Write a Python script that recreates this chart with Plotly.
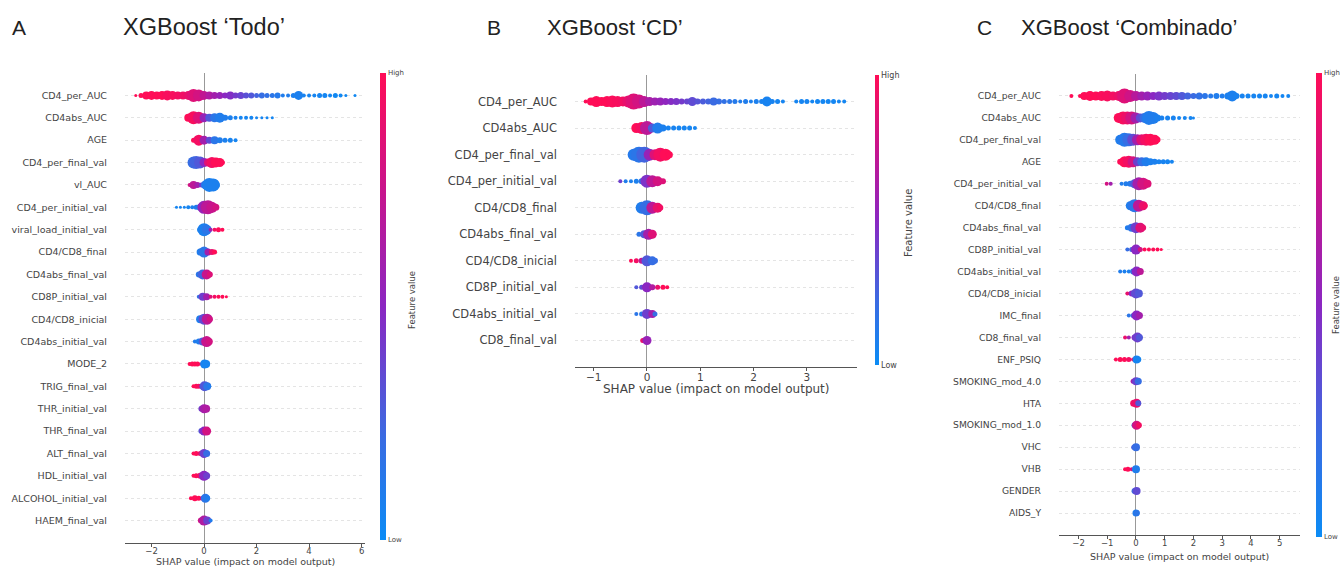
import plotly.graph_objects as go

W, H = 1343, 567

# ---------------- Panel A: XGBoost 'Todo' ----------------
A_FEATURES = ["CD4_per_AUC", "CD4abs_AUC", "AGE", "CD4_per_final_val", "vl_AUC",
              "CD4_per_initial_val", "viral_load_initial_val", "CD4/CD8_final",
              "CD4abs_final_val", "CD8P_initial_val", "CD4/CD8_inicial",
              "CD4abs_initial_val", "MODE_2", "TRIG_final_val", "THR_initial_val",
              "THR_final_val", "ALT_final_val", "HDL_initial_val",
              "ALCOHOL_initial_val", "HAEM_final_val"]
A_SHAP = [
    [-2.6, -2.4, -2.2, -2.0, -1.8, -1.6, -1.4, -1.2, -1.0, -0.8, -0.6, -0.4, -0.2, 0.0, 0.2, 0.4, 0.6, 0.8, 1.0, 1.2, 1.4, 1.6, 1.8, 2.0, 2.2, 2.4, 2.6, 2.8, 3.0, 3.2, 3.4, 3.6, 3.8, 4.0, 4.2, 4.4, 4.6, 4.8, 5.0, 5.2, 5.4, 5.75],
    [-0.6, -0.4, -0.2, 0.0, 0.2, 0.4, 0.6, 0.8, 1.0, 1.2, 1.4, 1.6, 1.8, 2.0, 2.2, 2.4, 2.6],
    [-0.4, -0.2, 0.0, 0.2, 0.4, 0.6, 0.8, 1.0, 1.2],
    [-0.4, -0.3, -0.15, 0.0, 0.15, 0.3, 0.45, 0.6, 0.7],
    [-0.55, -0.4, -0.25, -0.1, 0.05, 0.2, 0.35, 0.45],
    [-1.05, -0.9, -0.75, -0.6, -0.45, -0.3, -0.15, 0.0, 0.15, 0.3, 0.45],
    [-0.15, 0.0, 0.1, 0.25, 0.4, 0.55, 0.7],
    [-0.15, 0.0, 0.15, 0.3, 0.4],
    [-0.2, -0.05, 0.1, 0.22],
    [-0.2, -0.05, 0.1, 0.25, 0.4, 0.55, 0.7, 0.85],
    [-0.15, 0.0, 0.12, 0.22],
    [-0.35, -0.2, -0.05, 0.1, 0.2],
    [-0.55, -0.45, -0.35, -0.25, -0.15, 0.02, 0.08],
    [-0.4, -0.3, -0.2, -0.1, 0.02, 0.12, 0.2],
    [-0.1, 0.0, 0.08],
    [-0.1, 0.0, 0.1],
    [-0.4, -0.3, -0.15, 0.0, 0.1],
    [-0.4, -0.3, -0.15, 0.0, 0.1],
    [-0.5, -0.35, -0.2, -0.05, 0.05, 0.12],
    [-0.12, 0.0, 0.12, 0.25],
]
A_SPREAD = [
    [3, 5, 8, 9, 8, 9, 10, 9, 8, 8, 9, 13, 12, 9, 8, 7, 7, 6, 8, 6, 7, 6, 6, 5, 6, 5, 5, 6, 4, 4, 5, 9, 4, 4, 4, 5, 5, 4, 5, 4, 3, 3],
    [8, 13, 12, 9, 8, 9, 10, 6, 5, 4, 4, 4, 4, 3, 3, 3, 3],
    [5, 11, 9, 7, 8, 6, 5, 5, 4],
    [12, 13, 12, 9, 8, 11, 10, 9, 5],
    [4, 8, 6, 5, 9, 14, 13, 8],
    [3, 3, 3, 4, 4, 5, 7, 13, 14, 11, 7],
    [6, 13, 10, 4, 4, 5, 4],
    [7, 11, 7, 6, 5],
    [6, 10, 10, 6],
    [4, 8, 7, 4, 4, 4, 4, 3],
    [8, 11, 11, 6],
    [4, 6, 8, 11, 7],
    [4, 5, 5, 5, 3, 9, 8],
    [4, 5, 5, 5, 10, 8, 4],
    [6, 9, 8],
    [6, 9, 9],
    [4, 5, 5, 9, 7],
    [4, 5, 6, 10, 7],
    [4, 6, 5, 5, 9, 6],
    [6, 10, 8, 4],
]
A_COLOR = [
    [1.0, 1.0, 1.0, 1.0, 1.0, 1.0, 0.97, 0.97, 0.95, 0.93, 0.9, 0.85, 0.8, 0.72, 0.65, 0.6, 0.55, 0.5, 0.47, 0.42, 0.38, 0.33, 0.3, 0.25, 0.2, 0.18, 0.15, 0.12, 0.1, 0.1, 0.08, 0.08, 0.06, 0.05, 0.05, 0.05, 0.04, 0.04, 0.03, 0.03, 0.03, 0.03],
    [1.0, 0.97, 0.85, 0.55, 0.3, 0.15, 0.1, 0.1, 0.08, 0.06, 0.05, 0.05, 0.05, 0.05, 0.05, 0.04, 0.04],
    [1.0, 0.95, 0.6, 0.35, 0.15, 0.1, 0.08, 0.06, 0.05],
    [0.2, 0.25, 0.3, 0.5, 0.85, 0.95, 1.0, 1.0, 1.0],
    [0.8, 0.7, 0.6, 0.4, 0.15, 0.08, 0.08, 0.08],
    [0.05, 0.05, 0.05, 0.05, 0.08, 0.1, 0.2, 0.55, 0.7, 0.75, 0.8],
    [0.05, 0.08, 0.15, 0.6, 0.95, 1.0, 1.0],
    [0.1, 0.15, 0.6, 0.9, 1.0],
    [0.15, 0.25, 0.75, 0.85],
    [0.2, 0.4, 0.6, 0.85, 0.95, 1.0, 1.0, 1.0],
    [0.1, 0.35, 0.7, 0.8],
    [0.1, 0.1, 0.3, 0.75, 0.8],
    [1.0, 1.0, 1.0, 1.0, 0.9, 0.05, 0.05],
    [1.0, 1.0, 0.95, 0.8, 0.3, 0.15, 0.1],
    [0.4, 0.6, 0.65],
    [0.3, 0.5, 0.8],
    [1.0, 1.0, 0.9, 0.4, 0.2],
    [1.0, 1.0, 0.9, 0.5, 0.4],
    [1.0, 1.0, 1.0, 0.7, 0.15, 0.1],
    [0.8, 0.65, 0.4, 0.1],
]

# ---------------- Panel B: XGBoost 'CD' ----------------
B_FEATURES = ["CD4_per_AUC", "CD4abs_AUC", "CD4_per_final_val", "CD4_per_initial_val",
              "CD4/CD8_final", "CD4abs_final_val", "CD4/CD8_inicial",
              "CD8P_initial_val", "CD4abs_initial_val", "CD8_final_val"]
B_SHAP = [
    [-1.15, -1.05, -0.95, -0.85, -0.75, -0.65, -0.55, -0.45, -0.35, -0.25, -0.15, -0.05, 0.05, 0.15, 0.25, 0.35, 0.45, 0.55, 0.65, 0.75, 0.85, 0.95, 1.05, 1.15, 1.25, 1.35, 1.45, 1.55, 1.65, 1.75, 1.85, 1.95, 2.05, 2.15, 2.25, 2.35, 2.45, 2.55, 2.8, 2.9, 3.0, 3.1, 3.2, 3.3, 3.4, 3.5, 3.6, 3.7],
    [-0.2, -0.1, 0.0, 0.1, 0.2, 0.3, 0.4, 0.5, 0.6, 0.7, 0.8, 0.9],
    [-0.25, -0.15, -0.05, 0.05, 0.15, 0.25, 0.35, 0.42],
    [-0.5, -0.4, -0.3, -0.2, -0.1, 0.0, 0.1, 0.2, 0.3],
    [-0.1, 0.0, 0.1, 0.2, 0.25],
    [-0.15, -0.05, 0.03, 0.1],
    [-0.3, -0.2, -0.1, 0.0, 0.1, 0.15],
    [-0.2, -0.1, 0.0, 0.1, 0.2, 0.3, 0.38],
    [-0.2, -0.1, 0.0, 0.1, 0.15],
    [-0.08, 0.0],
]
B_SPREAD = [
    [4, 8, 11, 9, 11, 12, 11, 10, 12, 16, 14, 11, 9, 8, 8, 7, 7, 7, 6, 6, 9, 6, 6, 6, 8, 6, 5, 5, 5, 4, 5, 4, 5, 5, 10, 5, 5, 4, 4, 5, 5, 4, 5, 5, 5, 5, 4, 4],
    [10, 12, 14, 9, 11, 7, 5, 5, 5, 5, 5, 4],
    [12, 16, 16, 12, 11, 14, 12, 7],
    [4, 4, 4, 5, 6, 13, 12, 10, 6],
    [12, 15, 12, 10, 6],
    [5, 8, 11, 9],
    [4, 5, 6, 11, 9, 6],
    [4, 5, 10, 6, 5, 5, 4],
    [4, 5, 10, 8, 5],
    [5, 9],
]
B_COLOR = [
    [1.0, 1.0, 1.0, 1.0, 1.0, 0.98, 0.97, 0.95, 0.9, 0.85, 0.8, 0.7, 0.62, 0.58, 0.55, 0.52, 0.48, 0.45, 0.42, 0.38, 0.35, 0.32, 0.28, 0.25, 0.22, 0.2, 0.18, 0.15, 0.12, 0.1, 0.1, 0.08, 0.08, 0.07, 0.06, 0.06, 0.05, 0.05, 0.05, 0.05, 0.05, 0.04, 0.04, 0.04, 0.04, 0.04, 0.04, 0.04],
    [1.0, 0.95, 0.7, 0.3, 0.1, 0.08, 0.06, 0.06, 0.05, 0.05, 0.05, 0.05],
    [0.12, 0.15, 0.25, 0.55, 0.85, 0.95, 1.0, 1.0],
    [0.4, 0.1, 0.08, 0.08, 0.15, 0.45, 0.7, 0.8, 0.85],
    [0.1, 0.2, 0.7, 0.9, 0.95],
    [0.15, 0.3, 0.6, 0.85],
    [1.0, 0.95, 0.7, 0.3, 0.2, 0.2],
    [0.3, 0.35, 0.5, 0.65, 0.9, 1.0, 1.0],
    [0.15, 0.15, 0.4, 0.6, 0.2],
    [0.9, 0.55],
]

# ---------------- Panel C: XGBoost 'Combinado' ----------------
C_FEATURES = ["CD4_per_AUC", "CD4abs_AUC", "CD4_per_final_val", "AGE",
              "CD4_per_initial_val", "CD4/CD8_final", "CD4abs_final_val",
              "CD8P_initial_val", "CD4abs_initial_val", "CD4/CD8_inicial",
              "IMC_final", "CD8_final_val", "ENF_PSIQ", "SMOKING_mod_4.0", "HTA",
              "SMOKING_mod_1.0", "VHC", "VHB", "GENDER", "AIDS_Y"]
C_SHAP = [
    [-2.25, -1.95, -1.8, -1.6, -1.4, -1.2, -1.0, -0.8, -0.6, -0.4, -0.2, 0.0, 0.2, 0.4, 0.6, 0.8, 1.0, 1.2, 1.4, 1.6, 1.8, 2.0, 2.2, 2.4, 2.6, 2.8, 3.0, 3.2, 3.35, 3.5, 3.7, 3.9, 4.1, 4.3, 4.5, 4.7, 4.9, 5.1, 5.3],
    [-0.6, -0.45, -0.3, -0.15, 0.0, 0.15, 0.3, 0.45, 0.6, 0.75, 0.9, 1.1, 1.3, 1.5, 1.7, 1.9, 2.0],
    [-0.55, -0.4, -0.25, -0.1, 0.05, 0.2, 0.35, 0.5, 0.65, 0.75],
    [-0.55, -0.4, -0.25, -0.1, 0.05, 0.2, 0.35, 0.5, 0.65, 0.8, 0.95, 1.1, 1.25],
    [-1.02, -0.88, -0.5, -0.35, -0.2, -0.05, 0.1, 0.25, 0.4],
    [-0.2, -0.05, 0.1, 0.25, 0.32],
    [-0.3, -0.15, 0.0, 0.15, 0.25],
    [-0.3, -0.15, 0.0, 0.15, 0.3, 0.45, 0.6, 0.75, 0.88],
    [-0.55, -0.4, -0.25, -0.1, 0.02, 0.15],
    [-0.3, -0.15, 0.0, 0.1],
    [-0.25, -0.1, 0.02, 0.12],
    [-0.38, -0.25, -0.05, 0.05, 0.12],
    [-0.7, -0.55, -0.4, -0.25, -0.1, 0.02, 0.08],
    [-0.1, 0.0, 0.08],
    [-0.08, 0.02, 0.08],
    [-0.05, 0.02, 0.1],
    [-0.08, 0.0],
    [-0.38, -0.28, -0.15, 0.0],
    [-0.05, 0.02],
    [0.0, 0.03],
]
C_SPREAD = [
    [4, 4, 8, 10, 9, 10, 11, 9, 10, 15, 12, 10, 9, 9, 8, 9, 8, 8, 8, 8, 7, 6, 7, 6, 5, 6, 5, 7, 11, 6, 5, 5, 5, 5, 5, 4, 5, 4, 4],
    [10, 13, 13, 13, 11, 9, 10, 14, 12, 7, 5, 5, 5, 4, 4, 4, 3],
    [10, 14, 13, 12, 11, 11, 12, 12, 10, 6],
    [6, 11, 12, 11, 9, 9, 9, 7, 6, 5, 5, 5, 4],
    [4, 4, 4, 5, 6, 9, 13, 12, 8],
    [9, 13, 12, 9, 5],
    [5, 8, 11, 10, 6],
    [4, 5, 10, 5, 4, 4, 4, 4, 3],
    [4, 4, 4, 6, 10, 7],
    [4, 6, 10, 8],
    [4, 5, 10, 7],
    [4, 4, 6, 10, 7],
    [4, 5, 5, 5, 4, 8, 6],
    [5, 8, 7],
    [7, 9, 6],
    [6, 9, 6],
    [5, 8],
    [4, 5, 4, 8],
    [6, 8],
    [7, 6],
]
C_COLOR = [
    [1.0, 1.0, 1.0, 1.0, 1.0, 0.98, 0.97, 0.95, 0.92, 0.85, 0.78, 0.68, 0.6, 0.55, 0.5, 0.45, 0.42, 0.38, 0.35, 0.3, 0.25, 0.22, 0.18, 0.15, 0.12, 0.1, 0.1, 0.08, 0.08, 0.07, 0.06, 0.05, 0.05, 0.05, 0.05, 0.05, 0.05, 0.04, 0.04],
    [1.0, 0.97, 0.92, 0.8, 0.6, 0.35, 0.2, 0.1, 0.1, 0.08, 0.07, 0.06, 0.06, 0.05, 0.05, 0.05, 0.05],
    [0.1, 0.12, 0.2, 0.35, 0.6, 0.85, 0.95, 1.0, 1.0, 1.0],
    [1.0, 1.0, 0.95, 0.8, 0.4, 0.2, 0.1, 0.08, 0.08, 0.06, 0.06, 0.05, 0.05],
    [0.8, 0.6, 0.1, 0.1, 0.12, 0.3, 0.6, 0.8, 0.85],
    [0.1, 0.15, 0.7, 0.9, 0.95],
    [0.1, 0.15, 0.4, 0.85, 0.9],
    [0.2, 0.25, 0.5, 0.8, 1.0, 1.0, 1.0, 1.0, 1.0],
    [0.1, 0.08, 0.08, 0.15, 0.5, 0.7],
    [0.9, 0.5, 0.35, 0.3],
    [0.15, 0.2, 0.5, 0.6],
    [0.9, 0.6, 0.5, 0.4, 0.3],
    [1.0, 1.0, 1.0, 0.95, 0.9, 0.05, 0.05],
    [0.6, 0.4, 0.2],
    [0.95, 0.9, 0.3],
    [0.3, 0.8, 0.95],
    [0.3, 0.2],
    [1.0, 1.0, 0.8, 0.1],
    [0.2, 0.35],
    [0.1, 0.15],
]

PANEL_LETTERS = ["A", "B", "C"]
PANEL_TITLES = ["XGBoost \u2018Todo\u2019", "XGBoost \u2018CD\u2019", "XGBoost \u2018Combinado\u2019"]
X_LABEL = "SHAP value (impact on model output)"
A_TICKS = [-2, 0, 2, 4, 6]
B_TICKS = [-1, 0, 1, 2, 3]
C_TICKS = [-2, -1, 0, 1, 2, 3, 4, 5]

RED_BLUE = [[0.0, "#0b8cf5"], [0.22, "#3a6be2"], [0.5, "#8b27c2"],
            [0.75, "#c8148c"], [1.0, "#ff0d57"]]

FONT = "DejaVu Sans"
TXT = "#444444"


def px(x):
    return x / W


def py(y):
    return 1 - y / H


fig = go.Figure()

panels = [
    dict(feats=A_FEATURES, shap=A_SHAP, spread=A_SPREAD, color=A_COLOR, ticks=A_TICKS,
         xdom=(125, 365), ydom=(73, 543), xr=(-3.01, 6.13), yfs=9.5, xfs=8.5, lfs=9.5,
         xlab_y=561, cb=(380, 73, 540, 6), cbfs=7, fv=(412, 300), fvfs=8.5,
         ax="", cax="coloraxis"),
    dict(feats=B_FEATURES, shap=B_SHAP, spread=B_SPREAD, color=B_COLOR, ticks=B_TICKS,
         xdom=(575, 857), ydom=(75, 367), xr=(-1.35, 3.94), yfs=11.5, xfs=10.5, lfs=12,
         xlab_y=389, cb=(875, 75, 365, 4), cbfs=8, fv=(908, 223), fvfs=10,
         ax="2", cax="coloraxis2"),
    dict(feats=C_FEATURES, shap=C_SHAP, spread=C_SPREAD, color=C_COLOR, ticks=C_TICKS,
         xdom=(1059, 1300), ydom=(74, 535), xr=(-2.68, 5.71), yfs=9.2, xfs=8.5, lfs=9.5,
         xlab_y=556, cb=(1316, 73, 537, 6), cbfs=7, fv=(1336, 305), fvfs=8.5,
         ax="3", cax="coloraxis3"),
]

annotations = []
layout = {}
for p in panels:
    feats = p["feats"]
    n = len(feats)
    xs, ys, ss, cs = [], [], [], []
    for i in range(n):
        row = n - 1 - i
        for x, s, c in zip(p["shap"][i], p["spread"][i], p["color"][i]):
            xs.append(x)
            ys.append(row)
            ss.append(s)
            cs.append(c)
    fig.add_trace(go.Scatter(
        x=xs, y=ys, mode="markers",
        marker=dict(size=ss, color=cs, coloraxis=p["cax"], line=dict(width=0), opacity=1),
        xaxis="x" + p["ax"], yaxis="y" + p["ax"], showlegend=False, hoverinfo="skip"))

    layout["xaxis" + p["ax"]] = dict(
        domain=[px(p["xdom"][0]), px(p["xdom"][1])], range=list(p["xr"]),
        anchor="y" + p["ax"], showline=True, linecolor="#555555", linewidth=1,
        ticks="outside", ticklen=3, tickcolor="#555555", tickvals=p["ticks"],
        ticklabelstandoff=-3,
        tickfont=dict(family=FONT, size=p["xfs"], color=TXT),
        showgrid=False, zeroline=True, zerolinecolor="#999999", zerolinewidth=1,
        fixedrange=True)
    layout["yaxis" + p["ax"]] = dict(
        domain=[py(p["ydom"][1]), py(p["ydom"][0])], range=[-1, n],
        anchor="x" + p["ax"], showline=False, ticks="",
        tickvals=list(range(n)), ticktext=list(reversed(feats)),
        ticklabelstandoff=17,
        tickfont=dict(family=FONT, size=p["yfs"], color=TXT),
        showgrid=True, gridcolor="#e4e4e4", griddash="dot", gridwidth=1,
        zeroline=False, fixedrange=True)
    cx, cy0, cy1, th = p["cb"]
    layout[p["cax"]] = dict(
        cmin=0, cmax=1, colorscale=RED_BLUE,
        colorbar=dict(x=px(cx), xanchor="left", y=py(cy0), yanchor="top",
                      len=(cy1 - cy0) / H, lenmode="fraction", thickness=th,
                      thicknessmode="pixels", xpad=0, ypad=0, outlinewidth=0,
                      tickvals=[0, 1], ticktext=["Low", "High"], ticks="",
                      tickfont=dict(family=FONT, size=p["cbfs"], color=TXT)))
    annotations.append(dict(
        x=px((p["xdom"][0] + p["xdom"][1]) / 2), y=py(p["xlab_y"]), xref="paper", yref="paper",
        text=X_LABEL, showarrow=False, xanchor="center", yanchor="middle",
        font=dict(family=FONT, size=p["lfs"], color=TXT)))
    annotations.append(dict(
        x=px(p["fv"][0]), y=py(p["fv"][1]), xref="paper", yref="paper",
        text="Feature value", showarrow=False, textangle=-90,
        xanchor="center", yanchor="middle",
        font=dict(family=FONT, size=p["fvfs"], color=TXT)))

letter_x = [10, 485, 975]
title_x = [121, 545, 1019]
title_fs = [23.5, 22, 22]
for k in range(3):
    annotations.append(dict(
        x=px(letter_x[k]), y=py(27), xref="paper", yref="paper", text=PANEL_LETTERS[k],
        showarrow=False, xanchor="left", yanchor="middle",
        font=dict(family="Liberation Sans", size=21, color="#222222")))
    annotations.append(dict(
        x=px(title_x[k]), y=py(27), xref="paper", yref="paper", text=PANEL_TITLES[k],
        showarrow=False, xanchor="left", yanchor="middle",
        font=dict(family="Liberation Sans", size=title_fs[k], color="#222222")))

fig.update_layout(
    width=W, height=H,
    margin=dict(l=0, r=0, t=0, b=0, pad=0, autoexpand=False),
    paper_bgcolor="white", plot_bgcolor="white",
    annotations=annotations,
    **layout)

fig.write_html("out.html", config={"displayModeBar": False},
               post_script="document.body.style.margin='0';document.body.style.padding='0';")
